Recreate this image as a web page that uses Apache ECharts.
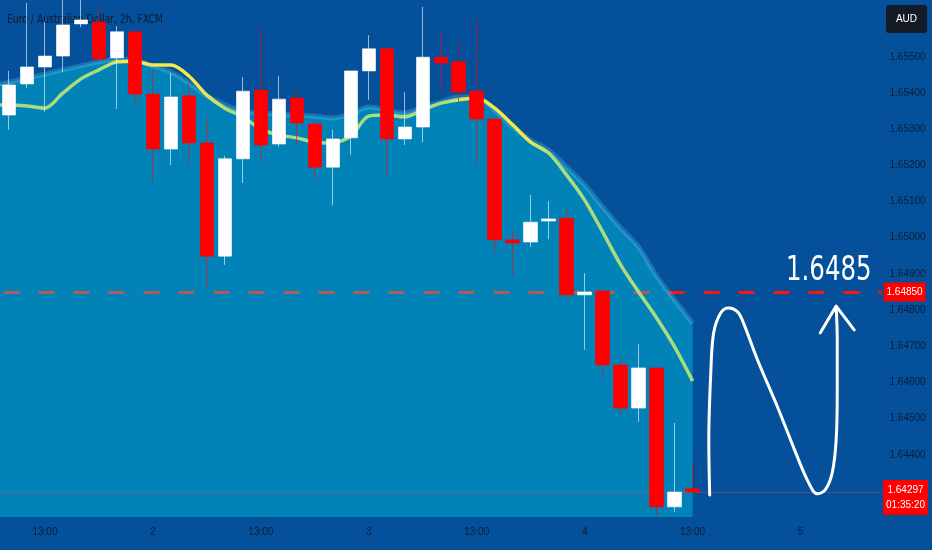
<!DOCTYPE html>
<html>
<head>
<meta charset="utf-8">
<script src="https://cdn.jsdelivr.net/npm/echarts@6/dist/echarts.min.js"></script>
<style>
html,body{margin:0;padding:0;background:#04509a;}
#c{width:932px;height:550px;}
</style>
</head>
<body>
<div id="c"></div>
<script>
// ---- data ----
const categories = [
  '1 09:00','1 11:00','1 13:00','1 15:00','1 17:00','1 19:00','1 21:00','1 23:00',
  '2 01:00','2 03:00','2 05:00','2 07:00','2 09:00','2 11:00','2 13:00','2 15:00','2 17:00','2 19:00','2 21:00','2 23:00',
  '3 01:00','3 03:00','3 05:00','3 07:00','3 09:00','3 11:00','3 13:00','3 15:00','3 17:00','3 19:00','3 21:00','3 23:00',
  '4 01:00','4 03:00','4 05:00','4 07:00','4 09:00','4 11:00','4 13:00','4 15:00','4 17:00','4 19:00','4 21:00','4 23:00',
  '5 01:00','5 03:00','5 05:00','5 07:00','5 09:00'
];
const opens  = [1.65339,1.65425,1.65472,1.65502,1.65591,1.65596,1.65497,1.65569,1.65397,1.65245,
                1.65392,1.65262,1.64949,1.65218,1.65408,1.65259,1.65386,1.65314,1.65195,1.65276,
                1.65461,1.65522,1.65273,1.65306,1.65499,1.65486,1.65405,1.65328,1.64994,1.64988,
                1.65046,1.65054,1.64842,1.64853,1.64648,1.64529,1.64640,1.64256,1.64306];
const closes = [1.65422,1.65472,1.65502,1.65588,1.65602,1.65494,1.65569,1.65397,1.65245,1.65389,
                1.65262,1.64949,1.65218,1.65405,1.65256,1.65383,1.65317,1.65195,1.65273,1.65461,
                1.65522,1.65273,1.65306,1.65499,1.65483,1.65403,1.65328,1.64994,1.64985,1.65043,
                1.65052,1.64842,1.64850,1.64648,1.64529,1.64640,1.64256,1.64297,1.64297];
const lows   = [1.65298,1.65414,1.65348,1.65458,1.65582,1.65494,1.65356,1.65367,1.65154,1.65201,
                1.65206,1.64864,1.64925,1.65151,1.65209,1.65251,1.65256,1.65159,1.65090,1.65229,
                1.65381,1.65173,1.65256,1.65264,1.65403,1.65375,1.65206,1.64958,1.64897,1.64974,
                1.64996,1.64833,1.64690,1.64620,1.64510,1.64491,1.64231,1.64242,1.64294];
const highs  = [1.65461,1.65649,1.65596,1.65665,1.65660,1.65638,1.65585,1.65569,1.65464,1.65455,
                1.65428,1.65331,1.65226,1.65444,1.65580,1.65447,1.65408,1.65325,1.65298,1.65461,
                1.65560,1.65522,1.65403,1.65638,1.65569,1.65541,1.65604,1.65328,1.65021,1.65118,
                1.65101,1.65082,1.64902,1.64853,1.64662,1.64706,1.64640,1.64488,1.64380];
// moving-average line, bar index -1 .. 38
const emaValues = [1.65367,1.65367,1.65364,1.65358,1.65400,1.65439,1.65464,1.65486,1.65488,1.65477,
                   1.65477,1.65447,1.65394,1.65358,1.65334,1.65300,1.65284,1.65276,1.65264,1.65262,
                   1.65281,1.65336,1.65339,1.65334,1.65353,1.65372,1.65381,1.65386,1.65358,1.65312,
                   1.65264,1.65234,1.65173,1.65104,1.65016,1.64925,1.64850,1.64778,1.64698,1.64604];
// upper edge of the shaded ribbon, bar index -1 .. 38
const ribbonEdge = [1.65419,1.65430,1.65441,1.65452,1.65464,1.65475,1.65486,1.65494,1.65491,1.65475,
                    1.65458,1.65428,1.65392,1.65367,1.65350,1.65345,1.65342,1.65339,1.65336,1.65331,
                    1.65342,1.65361,1.65353,1.65345,1.65361,1.65375,1.65389,1.65389,1.65353,1.65306,
                    1.65270,1.65242,1.65195,1.65146,1.65085,1.65027,1.64974,1.64894,1.64828,1.64764];
const firstIndex = -1;
const yMin = 1.64228, yMax = 1.65657;
const yTickStep = 0.001;
const yLabelRange = [1.6435, 1.6555];
const targetPrice = 1.6485;
const lastPrice = 1.64297;
const countdown = '01:35:20';
const titleText = 'Euro / Australian Dollar, 2h, FXCM';
const currency = 'AUD';
// hand-drawn forecast path (bar index, price)
const curveX = [38.95,38.90,39.01,39.17,39.56,40.00,40.50,40.83,41.61,42.72,43.60,44.38,44.93,45.37,45.76,45.98,46.04,46.04,45.98];
const curveY = [1.64289,1.64441,1.64626,1.64737,1.64792,1.64806,1.64795,1.64764,1.64662,1.64532,1.64422,1.64330,1.64292,1.64303,1.64350,1.64441,1.64579,1.64717,1.64809];
const arrowX = [45.10,45.98,46.98];
const arrowY = [1.64737,1.64811,1.64745];
const targetLabelX = 45.57;

// ---- chart ----
const FONT = '"Liberation Sans",Arial,sans-serif';
const CFONT = '"DejaVu Sans Condensed","DejaVu Sans",sans-serif';
const BG = '#04509a';
const AXIS_TXT = '#0f1d36';

const candleData = opens.map((o, i) => [o, closes[i], lows[i], highs[i]]);
const emaData = emaValues.map((v, k) => [k + firstIndex, v]);
const ribbonData = ribbonEdge.map((v, k) => [k + firstIndex, v]);
const curveData = curveX.map((x, i) => [x, curveY[i]]);
const arrowData = arrowX.map((x, i) => [x, arrowY[i]]);

const green = '#a9dc7d', yellow = '#f4e94a';
const emaGradient = new echarts.graphic.LinearGradient(0, 0, 1, 0, [
  {offset: 0, color: green}, {offset: 0.16, color: green},
  {offset: 0.19, color: yellow}, {offset: 0.30, color: yellow},
  {offset: 0.34, color: green}, {offset: 0.65, color: green},
  {offset: 0.68, color: yellow}, {offset: 0.76, color: yellow},
  {offset: 0.80, color: green}, {offset: 1, color: green}
]);

const chart = echarts.init(document.getElementById('c'), null, {renderer: 'canvas'});
const option = {
  backgroundColor: BG,
  animation: false,
  textStyle: {fontFamily: FONT},
  grid: {left: -3.5, right: 50.5, top: 0, bottom: 33, containLabel: false},
  xAxis: [{
    type: 'category',
    data: categories,
    boundaryGap: true,
    axisLine: {show: false},
    axisTick: {show: false},
    splitLine: {show: false},
    axisLabel: {
      interval: 0, margin: 10, color: AXIS_TXT, fontSize: 10, fontFamily: FONT,
      formatter: v => { const p = v.split(' '); return p[1] === '13:00' ? '13:00' : (p[1] === '01:00' ? p[0] : ''); }
    }
  }, {
    type: 'value', min: -0.5, max: categories.length - 0.5, show: false
  }],
  yAxis: [{
    type: 'value', position: 'right', min: yMin, max: yMax,
    minInterval: yTickStep, maxInterval: yTickStep, scale: true,
    axisLine: {show: false}, axisTick: {show: false}, splitLine: {show: false},
    axisLabel: {
      margin: 8, color: AXIS_TXT, fontSize: 10, fontFamily: FONT, align: 'left',
      formatter: v => (v < yLabelRange[0] || v > yLabelRange[1]) ? '' : v.toFixed(5)
    }
  }],
  series: [{
    name: 'ribbon', type: 'line', xAxisIndex: 1, yAxisIndex: 0, z: 2,
    data: ribbonData, smooth: 0.3, symbol: 'none', silent: true,
    lineStyle: {color: 'rgba(110,215,250,0.25)', width: 5},
    areaStyle: {color: 'rgba(0,251,254,0.30)', opacity: 1},
    markLine: {
      z: 1, silent: true, symbol: 'none', animation: false, precision: 5,
      lineStyle: {color: '#ff1414', width: 3, type: [16, 19], dashOffset: -3.5},
      label: {
        show: true, position: 'end', distance: 2, formatter: targetPrice.toFixed(5),
        backgroundColor: '#ff0000', color: '#ffffff', fontSize: 10, fontFamily: FONT,
        padding: [4, 3, 4, 3], lineHeight: 11
      },
      data: [{yAxis: targetPrice}]
    }
  }, {
    name: 'EMA', type: 'line', xAxisIndex: 1, yAxisIndex: 0, z: 3,
    data: emaData, smooth: 0.3, symbol: 'none', silent: true,
    lineStyle: {color: emaGradient, width: 3.5}
  }, {
    name: 'EURAUD', type: 'candlestick', xAxisIndex: 0, yAxisIndex: 0, z: 5,
    data: candleData, barWidth: 14,
    itemStyle: {
      color: '#ffffff', color0: '#ff0000',
      borderColor: 'rgba(255,255,255,0.6)', borderColor0: 'rgba(255,0,0,0.62)', borderWidth: 1
    },
    markLine: {
      z: 4, silent: true, symbol: 'none', animation: false, precision: 5,
      lineStyle: {color: 'rgba(235,70,80,0.4)', width: 1, type: 'solid'},
      label: {show: false},
      data: [{yAxis: lastPrice}]
    }
  }, {
    name: 'forecast', type: 'line', xAxisIndex: 1, yAxisIndex: 0, z: 6,
    data: curveData, smooth: 0.35, symbol: 'none', silent: true, clip: false,
    lineStyle: {color: '#ffffff', width: 3, cap: 'round', join: 'round'}
  }, {
    name: 'arrow', type: 'line', xAxisIndex: 1, yAxisIndex: 0, z: 6,
    data: arrowData, symbol: 'none', silent: true, clip: false,
    lineStyle: {color: '#ffffff', width: 3, cap: 'round', join: 'round'}
  }]
};
chart.setOption(option);

// overlays that follow the library's scales
const yLast = chart.convertToPixel({yAxisIndex: 0}, lastPrice);
const tgt = chart.convertToPixel({xAxisIndex: 1, yAxisIndex: 0}, [targetLabelX, targetPrice]);
chart.setOption({
  graphic: [
    {type: 'text', z: 0, x: 7, y: 20, silent: true, scaleX: 0.79,
     style: {text: titleText, fill: '#121a2a', font: '13px ' + CFONT, align: 'left', verticalAlign: 'middle'}},
    {type: 'text', z: 100, x: tgt[0], y: tgt[1] - 21, silent: true, scaleX: 0.8,
     style: {text: targetPrice.toFixed(4), fill: '#ffffff', font: '34px ' + CFONT, align: 'center', verticalAlign: 'middle'}},
    {type: 'group', right: 5, top: 5, z: 100, children: [
      {type: 'rect', shape: {x: 0, y: 0, width: 41, height: 28, r: 3}, style: {fill: '#141a26'}},
      {type: 'text', x: 20.5, y: 14, style: {text: currency, fill: '#ffffff', font: '10px ' + FONT, align: 'center', verticalAlign: 'middle'}}
    ]},
    {type: 'group', x: 883, y: yLast - 12, z: 100, children: [
      {type: 'rect', shape: {x: 0, y: 0, width: 45, height: 35}, style: {fill: '#ff0000'}},
      {type: 'text', x: 22.5, y: 10, style: {text: lastPrice.toFixed(5), fill: '#ffffff', font: '10px ' + FONT, align: 'center', verticalAlign: 'middle'}},
      {type: 'text', x: 22.5, y: 25, style: {text: countdown, fill: '#ffffff', font: '10px ' + FONT, align: 'center', verticalAlign: 'middle'}}
    ]}
  ]
});
</script>
</body>
</html>
